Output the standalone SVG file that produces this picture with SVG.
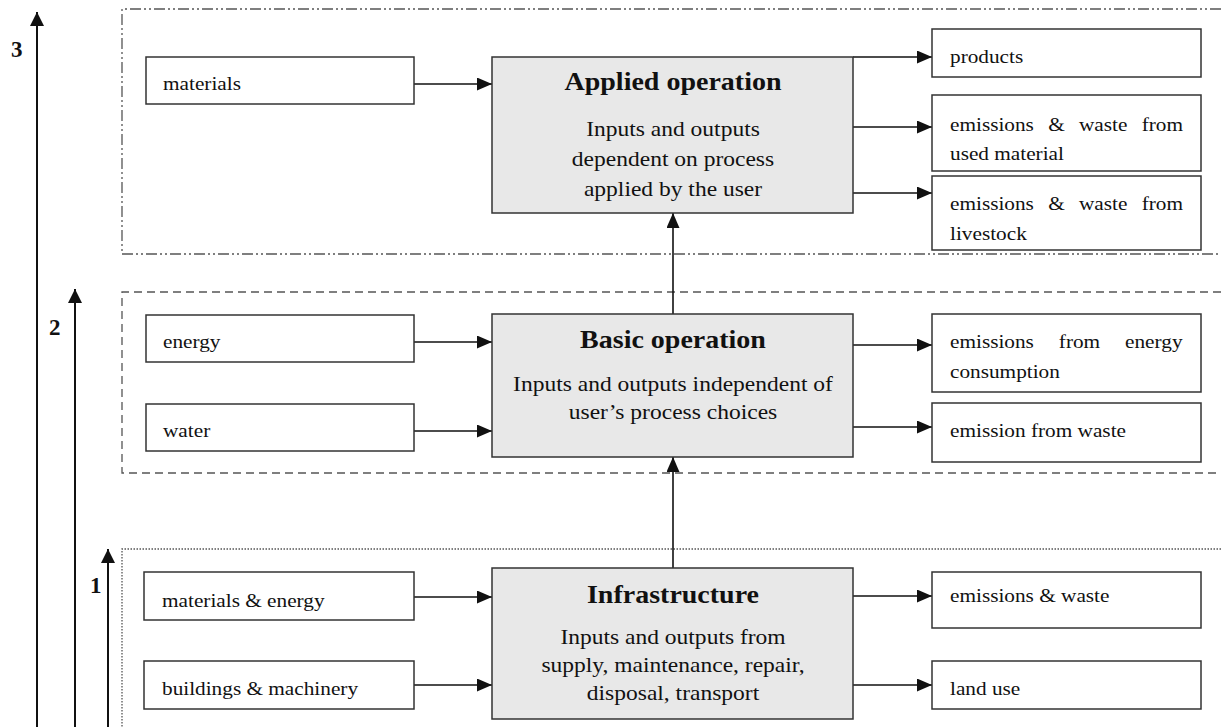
<svg xmlns="http://www.w3.org/2000/svg" width="1221" height="727" viewBox="0 0 1221 727">
<style>
text{font-family:"Liberation Serif","Times New Roman",serif;fill:#111}
.lbl{font-size:19px}
.body{font-size:21px;text-anchor:middle}
.title{font-size:25px;font-weight:bold;text-anchor:middle}
.num{font-size:23px;font-weight:bold}
.box{fill:#fff;stroke:#333;stroke-width:1.5}
.core{fill:#e8e8e8;stroke:#333;stroke-width:1.5}
.frame{fill:none;stroke:#555;stroke-width:1.3}
.conn{stroke:#111;stroke-width:1.6;fill:none;marker-end:url(#ah)}
.axis{stroke:#111;stroke-width:2;fill:none;marker-end:url(#ah2)}
</style>
<defs>
<marker id="ah" markerUnits="userSpaceOnUse" markerWidth="15" markerHeight="13" refX="15" refY="6.5" orient="auto">
<path d="M0,0 L15,6.5 L0,13 z" fill="#111"/>
</marker>
<marker id="ah2" markerUnits="userSpaceOnUse" markerWidth="15" markerHeight="14" refX="14" refY="7" orient="auto">
<path d="M0,0 L14,7 L0,14 z" fill="#111"/>
</marker>
</defs>
<rect width="1221" height="727" fill="#fff"/>

<g id="frames">
<path class="frame" d="M1221,9 H122 V254 H1221" stroke-dasharray="11 3 2 3 2 3"/>
<path class="frame" d="M1221,292 H122 V473 H1221" stroke-dasharray="8 5"/>
<path class="frame" d="M1221,549 H122 V727" stroke-dasharray="1.5 1.5"/>
</g>

<g id="levels">
<line class="axis" x1="37" y1="727" x2="37" y2="12"/>
<line class="axis" x1="75" y1="727" x2="75" y2="289"/>
<line class="axis" x1="108" y1="727" x2="108" y2="549"/>
<text class="num" x="11" y="57">3</text>
<text class="num" x="49" y="335">2</text>
<text class="num" x="90" y="593">1</text>
</g>

<g id="connectors">
<line class="conn" x1="414" y1="84" x2="492" y2="84"/>
<line class="conn" x1="414" y1="342" x2="492" y2="342"/>
<line class="conn" x1="414" y1="431" x2="492" y2="431"/>
<line class="conn" x1="414" y1="597" x2="492" y2="597"/>
<line class="conn" x1="414" y1="685" x2="492" y2="685"/>
<line class="conn" x1="853" y1="57" x2="932" y2="57"/>
<line class="conn" x1="853" y1="127" x2="932" y2="127"/>
<line class="conn" x1="853" y1="193" x2="932" y2="193"/>
<line class="conn" x1="853" y1="345" x2="932" y2="345"/>
<line class="conn" x1="853" y1="427" x2="932" y2="427"/>
<line class="conn" x1="853" y1="596" x2="932" y2="596"/>
<line class="conn" x1="853" y1="685" x2="932" y2="685"/>
<line class="conn" x1="673" y1="314" x2="673" y2="213"/>
<line class="conn" x1="673" y1="568" x2="673" y2="457"/>
</g>

<g id="materials">
<rect class="box" x="146" y="57" width="268" height="47"/>
<text class="lbl" transform="translate(163,90) scale(1.12,1)">materials</text>
</g>
<g id="applied-operation">
<rect class="core" x="492" y="57" width="361" height="156"/>
<text class="title" transform="translate(673,90) scale(1.12,1)">Applied operation</text>
<text class="body" transform="translate(673,136) scale(1.12,1)">Inputs and outputs</text>
<text class="body" transform="translate(673,166) scale(1.12,1)">dependent on process</text>
<text class="body" transform="translate(673,196) scale(1.12,1)">applied by the user</text>
</g>
<g id="products">
<rect class="box" x="932" y="29" width="269" height="48"/>
<text class="lbl" transform="translate(950,63) scale(1.12,1)">products</text>
</g>
<g id="waste-used-material">
<rect class="box" x="932" y="95" width="269" height="76"/>
<text class="lbl" transform="translate(950,131) scale(1.12,1)" style="word-spacing:8px">emissions &amp; waste from</text>
<text class="lbl" transform="translate(950,160) scale(1.12,1)">used material</text>
</g>
<g id="waste-livestock">
<rect class="box" x="932" y="176" width="269" height="74"/>
<text class="lbl" transform="translate(950,210) scale(1.12,1)" style="word-spacing:8px">emissions &amp; waste from</text>
<text class="lbl" transform="translate(950,240) scale(1.12,1)">livestock</text>
</g>

<g id="energy">
<rect class="box" x="146" y="315" width="268" height="47"/>
<text class="lbl" transform="translate(163,348) scale(1.12,1)">energy</text>
</g>
<g id="water">
<rect class="box" x="146" y="404" width="268" height="47"/>
<text class="lbl" transform="translate(163,437) scale(1.12,1)">water</text>
</g>
<g id="basic-operation">
<rect class="core" x="492" y="314" width="361" height="143"/>
<text class="title" transform="translate(673,348) scale(1.12,1)">Basic operation</text>
<text class="body" transform="translate(673,391) scale(1.12,1)">Inputs and outputs independent of</text>
<text class="body" transform="translate(673,419) scale(1.12,1)">user’s process choices</text>
</g>
<g id="emissions-energy">
<rect class="box" x="932" y="314" width="269" height="78"/>
<text class="lbl" transform="translate(950,348) scale(1.12,1)" style="word-spacing:17.5px">emissions from energy</text>
<text class="lbl" transform="translate(950,378) scale(1.12,1)">consumption</text>
</g>
<g id="emission-waste">
<rect class="box" x="932" y="403" width="269" height="59"/>
<text class="lbl" transform="translate(950,437) scale(1.12,1)">emission from waste</text>
</g>

<g id="materials-energy">
<rect class="box" x="144" y="572" width="270" height="48"/>
<text class="lbl" transform="translate(162,607) scale(1.12,1)">materials &amp; energy</text>
</g>
<g id="buildings-machinery">
<rect class="box" x="144" y="661" width="270" height="48"/>
<text class="lbl" transform="translate(162,695) scale(1.12,1)">buildings &amp; machinery</text>
</g>
<g id="infrastructure">
<rect class="core" x="492" y="568" width="361" height="151"/>
<text class="title" transform="translate(673,603) scale(1.12,1)">Infrastructure</text>
<text class="body" transform="translate(673,644) scale(1.12,1)">Inputs and outputs from</text>
<text class="body" transform="translate(673,672) scale(1.12,1)">supply, maintenance, repair,</text>
<text class="body" transform="translate(673,700) scale(1.12,1)">disposal, transport</text>
</g>
<g id="emissions-waste">
<rect class="box" x="932" y="572" width="269" height="56"/>
<text class="lbl" transform="translate(950,602) scale(1.12,1)">emissions &amp; waste</text>
</g>
<g id="land-use">
<rect class="box" x="932" y="661" width="269" height="48"/>
<text class="lbl" transform="translate(950,695) scale(1.12,1)">land use</text>
</g>
</svg>
